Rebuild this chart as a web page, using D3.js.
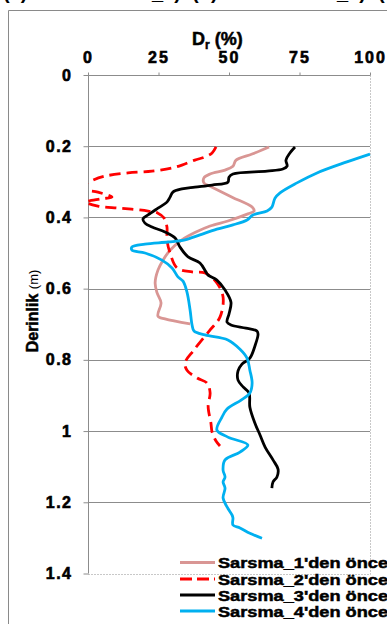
<!DOCTYPE html>
<html>
<head>
<meta charset="utf-8">
<script src="https://cdn.jsdelivr.net/npm/d3@7"></script>
<style>
  body { margin: 0; background: #fff; overflow: hidden; }
  svg { display: block; font-family: "Liberation Sans", Arial, sans-serif; }
</style>
</head>
<body>
<svg id="chart" width="387" height="624"></svg>
<script>
// Axis ticks
const drTicks = [0, 25, 50, 75, 100];
const depthTicks = [0, 0.2, 0.4, 0.6, 0.8, 1.0, 1.2, 1.4];

// Series labels
const seriesNames = ["Sarsma_1'den önce", "Sarsma_2'den önce", "Sarsma_3'den önce", "Sarsma_4'den önce"];

// Relative density Dr (%) and depth (m), series 1
const dr1 = [64.2, 58.2, 52.5, 51.4, 48.6, 43.3, 41.1, 41.1, 44.0, 51.1, 58.2, 58.9, 56.7, 49.6, 43.3, 38.3, 33.3, 29.1, 26.6, 24.8, 23.8, 24.5, 25.9, 24.8, 27.3, 36.2];
const depth1 = [0.202, 0.222, 0.239, 0.256, 0.267, 0.278, 0.289, 0.303, 0.315, 0.343, 0.371, 0.382, 0.390, 0.410, 0.424, 0.441, 0.463, 0.492, 0.520, 0.548, 0.584, 0.612, 0.640, 0.677, 0.685, 0.699];

// Series 2
const dr2 = [45.4, 44.0, 41.5, 37.9, 33.3, 29.8, 22.7, 14.2, 6.0, 1.8, -1.4, -1.4, 3.5, 8.5, 4.3, -0.7, 3.5, 11.3, 21.3, 24.8, 27.0, 28.0, 28.0, 29.1, 31.6, 36.9, 41.5, 45.7, 47.9, 46.8, 43.3, 37.6, 34.4, 35.1, 38.7, 42.2, 43.3, 42.6, 43.6, 44.0, 45.4, 46.8];
const depth2 = [0.202, 0.219, 0.230, 0.239, 0.253, 0.261, 0.270, 0.275, 0.284, 0.295, 0.309, 0.320, 0.329, 0.343, 0.348, 0.357, 0.368, 0.374, 0.382, 0.388, 0.402, 0.427, 0.463, 0.500, 0.542, 0.553, 0.556, 0.584, 0.624, 0.680, 0.716, 0.772, 0.809, 0.829, 0.851, 0.865, 0.893, 0.930, 0.978, 1.003, 1.028, 1.042];

// Series 3
const dr3 = [73.4, 71.6, 70.2, 70.6, 69.1, 63.5, 51.4, 50.0, 49.6, 44.0, 37.9, 33.3, 30.1, 29.1, 28.0, 24.8, 21.3, 19.5, 20.2, 22.7, 27.3, 30.9, 32.6, 35.5, 39.7, 41.8, 42.6, 45.7, 48.6, 50.7, 50.0, 49.3, 50.7, 56.0, 59.9, 60.3, 59.2, 57.4, 54.6, 53.2, 53.2, 55.0, 57.1, 57.4, 59.2, 61.0, 62.8, 65.6, 67.4, 67.0, 65.6, 65.2];
const depth3 = [0.202, 0.219, 0.239, 0.256, 0.264, 0.270, 0.278, 0.287, 0.301, 0.309, 0.315, 0.320, 0.329, 0.343, 0.357, 0.374, 0.393, 0.404, 0.416, 0.427, 0.441, 0.458, 0.483, 0.511, 0.528, 0.553, 0.562, 0.576, 0.604, 0.638, 0.671, 0.694, 0.702, 0.711, 0.719, 0.728, 0.761, 0.795, 0.812, 0.831, 0.857, 0.876, 0.893, 0.933, 0.978, 1.011, 1.045, 1.081, 1.107, 1.129, 1.143, 1.160];

// Series 4
const dr4 = [100, 91.8, 81.2, 74.1, 68.1, 66.3, 65.2, 63.5, 58.5, 56.4, 51.4, 45.7, 39.7, 34.4, 28.4, 20.2, 15.6, 15.6, 20.2, 26.2, 29.8, 31.9, 33.7, 35.1, 36.2, 36.9, 37.6, 41.5, 49.6, 53.9, 56.4, 57.4, 58.2, 57.4, 54.3, 49.3, 47.5, 45.7, 49.6, 56.7, 53.9, 48.6, 47.9, 48.6, 47.9, 48.6, 47.9, 49.3, 51.1, 51.4, 51.4, 53.9, 57.4, 61.7];
const depth4 = [0.222, 0.244, 0.275, 0.303, 0.331, 0.346, 0.371, 0.382, 0.393, 0.407, 0.421, 0.433, 0.449, 0.463, 0.469, 0.475, 0.483, 0.492, 0.500, 0.520, 0.542, 0.567, 0.579, 0.610, 0.660, 0.702, 0.719, 0.730, 0.744, 0.770, 0.795, 0.829, 0.865, 0.893, 0.913, 0.938, 0.961, 0.997, 1.017, 1.039, 1.059, 1.081, 1.110, 1.129, 1.143, 1.160, 1.188, 1.213, 1.236, 1.244, 1.264, 1.272, 1.287, 1.301];

const seriesDr = [dr1, dr2, dr3, dr4];
const seriesDepth = [depth1, depth2, depth3, depth4];
const seriesColors = ["#D99694", "#FF0000", "#000000", "#00B0F0"];
const seriesDash = [null, "11,6", null, null];

const svg = d3.select("#chart");
const W = 387, H = 624;

const plot = { left: 88, right: 370, top: 75, bottom: 573.5 };
const x = d3.scaleLinear().domain([0, 100]).range([plot.left, plot.right]);
const y = d3.scaleLinear().domain([0, 1.4]).range([plot.top, plot.bottom]);

// heavy bold look for all chart text
function heavy(sel, w) {
  sel.attr("stroke", "#000").attr("stroke-width", w).attr("paint-order", "stroke");
}

svg.append("rect").attr("width", W).attr("height", H).attr("fill", "#fff");

// caption line of the surrounding figure, running off the top edge
const cap = svg.append("g").attr("font-weight", "bold").attr("font-size", 20).attr("fill", "#000");
cap.append("text").attr("x", 3).attr("y", -1).text("(a)");
cap.append("text").attr("x", 181).attr("y", -1).attr("text-anchor", "end").text("Sarsma_1)");
cap.append("text").attr("x", 192).attr("y", -1).text("(b)");
cap.append("text").attr("x", 366).attr("y", -1).attr("text-anchor", "end").text("Sarsma_2)");
cap.append("text").attr("x", 378).attr("y", -1).text("(c)");

// outer chart frame
svg.append("path")
  .attr("d", `M8.5,${H} V10.5 H${W}`)
  .attr("fill", "none").attr("stroke", "#8a8a8a").attr("stroke-width", 1);

// horizontal gridlines
svg.append("g").selectAll("line")
  .data(depthTicks.filter(d => d > 0 && d < 1.4))
  .join("line")
  .attr("x1", plot.left).attr("x2", plot.right)
  .attr("y1", d => Math.round(y(d)) + 0.5).attr("y2", d => Math.round(y(d)) + 0.5)
  .attr("stroke", "#8c8c8c").attr("stroke-width", 1);

// plot area border (right and bottom)
svg.append("path")
  .attr("d", `M${plot.left},${Math.round(plot.bottom) + 0.5} H${plot.right + 0.5} V${plot.top}`)
  .attr("fill", "none").attr("stroke", "#c8c8c8").attr("stroke-width", 1)
  .attr("stroke-dasharray", "2,1");

// top axis (Dr)
const xAxis = d3.axisTop(x).tickValues(drTicks).tickSize(3).tickPadding(10).tickFormat(d3.format("d"));
const gx = svg.append("g").attr("transform", `translate(0,${plot.top + 0.5})`).call(xAxis);
gx.select(".domain").attr("stroke", "#8c8c8c").attr("d", `M${plot.left},0H${plot.right}`);
gx.selectAll(".tick line").attr("stroke", "#8c8c8c");
gx.selectAll(".tick text").attr("font-size", 16).attr("font-weight", "bold").attr("fill", "#000")
  .attr("font-family", "'Liberation Sans', Arial, sans-serif").attr("letter-spacing", 2)
  .call(heavy, 0.6);

// left axis (depth)
const yAxis = d3.axisLeft(y).tickValues(depthTicks).tickSize(5).tickPadding(11).tickFormat(d => d3.format("")(+d.toFixed(1)));
const gy = svg.append("g").attr("transform", `translate(${plot.left + 0.5},0)`).call(yAxis);
gy.select(".domain").attr("stroke", "#8c8c8c").attr("d", `M0,${plot.top}V${plot.bottom}`);
gy.selectAll(".tick line").attr("stroke", "#8c8c8c");
gy.selectAll(".tick text").attr("font-size", 16).attr("font-weight", "bold").attr("fill", "#000")
  .attr("font-family", "'Liberation Sans', Arial, sans-serif").attr("letter-spacing", 1.5)
  .call(heavy, 0.6);

// axis titles
const xt = svg.append("text").attr("x", 192).attr("y", 45)
  .attr("font-size", 18).attr("font-weight", "bold").attr("fill", "#000").call(heavy, 0.5);
xt.append("tspan").text("D");
xt.append("tspan").attr("font-size", 12).attr("dy", 4).text("r");
xt.append("tspan").attr("dy", -4).text(" (%)");

const yt = svg.append("text").attr("transform", "translate(38,311) rotate(-90)")
  .attr("text-anchor", "middle").attr("font-size", 16).attr("fill", "#000");
yt.append("tspan").attr("font-weight", "bold").attr("stroke", "#000").attr("stroke-width", 0.5).text("Derinlik ");
yt.append("tspan").attr("font-size", 13).text("(m)");

// series lines
svg.append("clipPath").attr("id", "plotClip")
  .append("rect").attr("x", plot.left).attr("y", plot.top)
  .attr("width", plot.right - plot.left + 2).attr("height", plot.bottom - plot.top);

const line = d3.line()
  .x(d => x(d[0])).y(d => y(d[1]))
  .curve(d3.curveCatmullRom.alpha(0.5));

const lines = svg.append("g").attr("clip-path", "url(#plotClip)");
seriesDr.forEach((drs, i) => {
  const pts = drs.map((v, j) => [v, seriesDepth[i][j]]);
  lines.append("path")
    .datum(pts)
    .attr("d", line)
    .attr("fill", "none")
    .attr("stroke", seriesColors[i])
    .attr("stroke-width", 2.8)
    .attr("stroke-linejoin", "round")
    .attr("stroke-dasharray", seriesDash[i]);
});

// legend
const legend = svg.append("g");
const rowY = [562.5, 579, 595, 611];
seriesNames.forEach((name, i) => {
  legend.append("line")
    .attr("x1", 180).attr("x2", 215)
    .attr("y1", rowY[i]).attr("y2", rowY[i])
    .attr("stroke", seriesColors[i]).attr("stroke-width", 2.8)
    .attr("stroke-dasharray", seriesDash[i] ? "12,5" : null);
  legend.append("text")
    .attr("x", 218).attr("y", rowY[i] + 5.5)
    .attr("font-size", 15.5).attr("font-weight", "bold").attr("fill", "#000")
    .attr("textLength", 170).attr("lengthAdjust", "spacingAndGlyphs")
    .call(heavy, 0.5)
    .text(name);
});
</script>
</body>
</html>
